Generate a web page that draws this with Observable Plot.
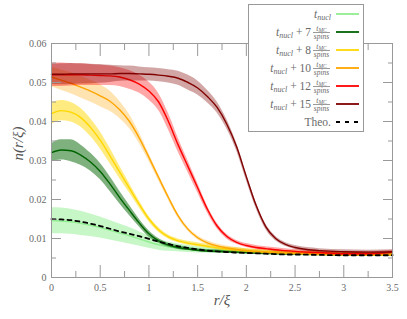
<!DOCTYPE html>
<html><head><meta charset="utf-8">
<script src="https://cdn.jsdelivr.net/npm/d3@7"></script>
<script src="https://cdn.jsdelivr.net/npm/@observablehq/plot@0.6"></script>
<style>body{margin:0;background:#fff}svg{overflow:visible}svg text{font-family:"Liberation Serif","Times New Roman",serif !important}</style>
</head><body><div id="chart"></div>
<script>
const r = [0,0.1,0.2,0.3,0.4,0.5,0.6,0.7,0.8,0.9,1.0,1.1,1.2,1.3,1.4,1.5,1.6,1.7,1.8,1.9,2.0,2.1,2.2,2.3,2.4,2.5,2.75,3.0,3.25,3.5];

const nucl    = [0.0146,0.0145,0.0143,0.0139,0.0134,0.0128,0.0121,0.0114,0.0107,0.0099,0.0091,0.0084,0.0079,0.0076,0.0073,0.0071,0.0070,0.0069,0.0068,0.0067,0.0066,0.0065,0.0064,0.0063,0.0062,0.0061,0.0060,0.0059,0.0059,0.0059];
const nuclErr = [0.0033,0.0033,0.0032,0.0031,0.0029,0.0027,0.0025,0.0023,0.0021,0.0018,0.0016,0.0014,0.0012,0.0010,0.0009,0.0008,0.0007,0.0007,0.0006,0.0006,0.0006,0.0005,0.0005,0.0005,0.0005,0.0005,0.0005,0.0005,0.0005,0.0005];

const t7    = [0.0320,0.0327,0.0325,0.0314,0.0296,0.0272,0.0240,0.0205,0.0172,0.0140,0.0112,0.0094,0.0083,0.0077,0.0073,0.0070,0.0068,0.0067,0.0066,0.0065,0.0064,0.0063,0.0062,0.0062,0.0061,0.0061,0.0060,0.0059,0.0059,0.0059];
const t7Err = [0.0023,0.0026,0.0028,0.0026,0.0023,0.0021,0.0019,0.0016,0.0013,0.0010,0.0008,0.0006,0.0005,0.0005,0.0004,0.0004,0.0004,0.0004,0.0004,0.0004,0.0004,0.0004,0.0004,0.0004,0.0004,0.0004,0.0004,0.0004,0.0004,0.0004];

const t8    = [0.0420,0.0428,0.0424,0.0410,0.0385,0.0352,0.0312,0.0270,0.0229,0.0188,0.0150,0.0122,0.0104,0.0094,0.0088,0.0084,0.0080,0.0076,0.0073,0.0071,0.0069,0.0067,0.0066,0.0065,0.0064,0.0063,0.0061,0.0060,0.0059,0.0059];
const t8Err = [0.0028,0.0026,0.0025,0.0024,0.0023,0.0022,0.0020,0.0016,0.0012,0.0009,0.0007,0.0006,0.0005,0.0005,0.0005,0.0005,0.0005,0.0005,0.0005,0.0005,0.0005,0.0005,0.0005,0.0005,0.0005,0.0005,0.0005,0.0005,0.0005,0.0005];

const t10    = [0.0514,0.0506,0.0498,0.0488,0.0478,0.0466,0.0452,0.0430,0.0400,0.0358,0.0308,0.0256,0.0205,0.0158,0.0124,0.0102,0.0089,0.0081,0.0076,0.0072,0.0069,0.0067,0.0065,0.0064,0.0063,0.0062,0.0060,0.0059,0.0059,0.0059];
const t10Err = [0.0025,0.0026,0.0027,0.0028,0.0028,0.0028,0.0026,0.0022,0.0018,0.0014,0.0010,0.0008,0.0007,0.0006,0.0005,0.0005,0.0005,0.0005,0.0005,0.0005,0.0005,0.0005,0.0005,0.0005,0.0005,0.0005,0.0005,0.0005,0.0005,0.0005];

const t12    = [0.0520,0.0520,0.0520,0.0520,0.0519,0.0518,0.0517,0.0514,0.0507,0.0496,0.0478,0.0450,0.0400,0.0340,0.0285,0.0230,0.0175,0.0132,0.0105,0.0090,0.0082,0.0077,0.0074,0.0071,0.0069,0.0067,0.0064,0.0061,0.0061,0.0065];
const t12Err = [0.0030,0.0030,0.0029,0.0028,0.0027,0.0026,0.0025,0.0024,0.0024,0.0023,0.0023,0.0022,0.0021,0.0018,0.0015,0.0012,0.0009,0.0007,0.0006,0.0005,0.0005,0.0005,0.0005,0.0005,0.0005,0.0005,0.0005,0.0005,0.0005,0.0005];

const t15    = [0.0521,0.0521,0.0522,0.0522,0.0522,0.0522,0.0522,0.0523,0.0523,0.0522,0.0521,0.0519,0.0516,0.0511,0.0500,0.0486,0.0464,0.0436,0.0393,0.0335,0.0258,0.0185,0.0130,0.0100,0.0085,0.0077,0.0069,0.0066,0.0065,0.0066];
const t15Err = [0.0026,0.0027,0.0027,0.0026,0.0025,0.0024,0.0022,0.0020,0.0019,0.0018,0.0017,0.0017,0.0017,0.0018,0.0019,0.0018,0.0016,0.0014,0.0012,0.0010,0.0009,0.0008,0.0007,0.0006,0.0005,0.0005,0.0005,0.0005,0.0005,0.0005];

const theo = [0.0150,0.0149,0.0147,0.0143,0.0138,0.0132,0.0125,0.0118,0.0112,0.0106,0.0099,0.0092,0.0086,0.0080,0.0076,0.0072,0.0069,0.0067,0.0065,0.0064,0.0063,0.0062,0.0061,0.0060,0.0059,0.0059,0.0058,0.0057,0.0057,0.0057];

const seriesMeans = [nucl, t7, t8, t10, t12, t15];
const seriesErrs = [nuclErr, t7Err, t8Err, t10Err, t12Err, t15Err];
const seriesSteps = ["", "7", "8", "10", "12", "15"];
const lineColors = ["#90ee90", "#006400", "#ffd700", "#ffa500", "#ff0000", "#800000"];
const bandOpacity = [0.5, 0.5, 0.5, 0.3, 0.35, 0.35];
const theoLabel = "Theo.";

const xMajor = [0, 0.5, 1, 1.5, 2, 2.5, 3, 3.5];
const xTickLabels = ["0", "0.5", "1", "1.5", "2", "2.5", "3", "3.5"];
const xMinor = [0.25, 0.75, 1.25, 1.75, 2.25, 2.75, 3.25];
const yMajor = [0, 0.01, 0.02, 0.03, 0.04, 0.05, 0.06];
const yTickLabels = ["0", "0.01", "0.02", "0.03", "0.04", "0.05", "0.06"];
const yMinor = [0.005, 0.015, 0.025, 0.035, 0.045, 0.055];

const FONT = '"Liberation Serif", "Times New Roman", serif';
const TXT = "#6a6a6a";
const FR = "#999";

const marks = [];
seriesMeans.forEach((m, i) => {
  const rows = r.map((x, k) => ({x, y: m[k], lo: m[k] - seriesErrs[i][k], hi: m[k] + seriesErrs[i][k]}));
  marks.push(Plot.areaY(rows, {x: "x", y1: "lo", y2: "hi", fill: lineColors[i], fillOpacity: bandOpacity[i], curve: "monotone-x"}));
  marks.push(Plot.lineY(rows, {x: "x", y: "y", stroke: lineColors[i], strokeWidth: 1.4, curve: "monotone-x"}));
});
const theoRows = r.map((x, k) => ({x, y: theo[k]}));
marks.push(Plot.lineY(theoRows, {x: "x", y: "y", stroke: "black", strokeWidth: 1.8, strokeDasharray: "4,4", curve: "monotone-x"}));

// frame and inward ticks
marks.push(Plot.frame({stroke: FR}));
for (const anchor of ["bottom", "top"]) {
  marks.push(Plot.axisX(xMajor, {anchor, tickSize: -12, tickFormat: () => "", stroke: FR, label: null}));
  marks.push(Plot.axisX(xMinor, {anchor, tickSize: -6, tickFormat: () => "", stroke: FR, label: null}));
}
for (const anchor of ["left", "right"]) {
  marks.push(Plot.axisY(yMajor, {anchor, tickSize: -10, tickFormat: () => "", stroke: FR, label: null}));
  marks.push(Plot.axisY(yMinor, {anchor, tickSize: -5, tickFormat: () => "", stroke: FR, label: null}));
}
marks.push(Plot.axisX(xMajor, {anchor: "bottom", tickSize: 0, tickPadding: 6, tickFormat: d => xTickLabels[xMajor.indexOf(d)], fill: TXT, fontSize: 10, label: null}));
marks.push(Plot.axisY(yMajor, {anchor: "left", tickSize: 0, tickPadding: 5, tickFormat: d => yTickLabels[yMajor.indexOf(d)], fill: TXT, fontSize: 10, label: null}));
marks.push(Plot.text(["r/ξ"], {frameAnchor: "bottom", dy: 27, fontSize: 15, fontStyle: "italic", fill: "#555"}));
marks.push(Plot.text(["n(r/ξ)"], {frameAnchor: "left", dx: -33, rotate: -90, fontSize: 15, fontStyle: "italic", fill: "#555"}));

const svgEl = Plot.plot({
  width: 407, height: 319,
  marginLeft: 51, marginRight: 15, marginTop: 43, marginBottom: 42,
  x: {domain: [0, 3.5], axis: null},
  y: {domain: [0, 0.06], axis: null},
  style: {fontFamily: FONT, background: "white"},
  marks
});
document.getElementById("chart").appendChild(svgEl);

// legend
const svg = d3.select(svgEl);
const lg = svg.append("g").attr("font-family", FONT).attr("fill", TXT);
lg.append("rect").attr("x", 248.5).attr("y", 4.5).attr("width", 115).attr("height", 127)
  .attr("fill", "white").attr("stroke", FR);
const rowY = i => 14 + 18 * i;
seriesSteps.forEach((s, i) => {
  const cy = rowY(i);
  lg.append("line").attr("x1", 336).attr("x2", 359).attr("y1", cy).attr("y2", cy)
    .attr("stroke", lineColors[i]).attr("stroke-width", 1.8);
  const t = lg.append("text").attr("x", s === "" ? 331 : 311).attr("y", cy + 3.5)
    .attr("text-anchor", "end").attr("font-size", 11.5);
  t.append("tspan").attr("font-style", "italic").text("t");
  t.append("tspan").attr("font-style", "italic").attr("font-size", 8).attr("dy", 2).text("nucl");
  if (s !== "") {
    t.append("tspan").attr("dy", -2).text(" + " + s);
    const fx = 321.5;
    const num = lg.append("text").attr("x", fx).attr("y", cy - 1.5).attr("text-anchor", "middle")
      .attr("font-size", 7.5).attr("font-style", "italic");
    num.append("tspan").text("t");
    num.append("tspan").attr("font-size", 5.5).attr("dy", 1).text("MC");
    lg.append("line").attr("x1", 313).attr("x2", 330).attr("y1", cy + 0.5).attr("y2", cy + 0.5)
      .attr("stroke", "#555").attr("stroke-width", 0.6);
    lg.append("text").attr("x", fx).attr("y", cy + 7).attr("text-anchor", "middle")
      .attr("font-size", 7.5).attr("font-style", "italic").text("spins");
  }
});
const ty = rowY(6);
lg.append("line").attr("x1", 336).attr("x2", 359).attr("y1", ty).attr("y2", ty)
  .attr("stroke", "black").attr("stroke-width", 2).attr("stroke-dasharray", "4,5");
lg.append("text").attr("x", 331).attr("y", ty + 3.5).attr("text-anchor", "end")
  .attr("font-size", 11.5).text(theoLabel);
</script>
</body></html>
